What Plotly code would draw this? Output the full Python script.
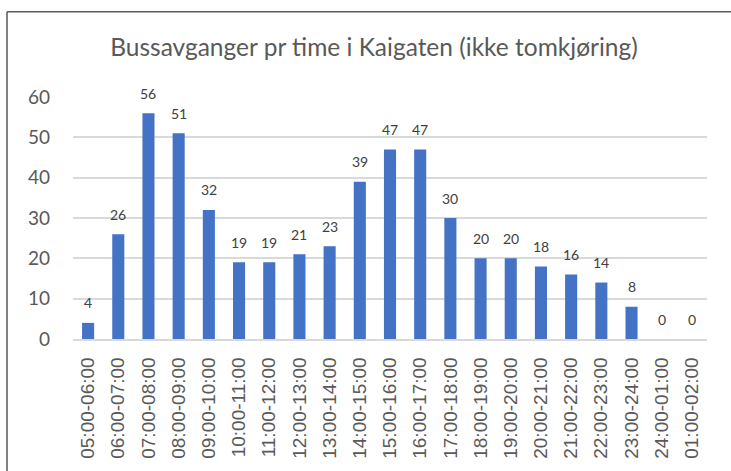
import plotly.graph_objects as go

categories = ["05:00-06:00", "06:00-07:00", "07:00-08:00", "08:00-09:00", "09:00-10:00",
              "10:00-11:00", "11:00-12:00", "12:00-13:00", "13:00-14:00", "14:00-15:00",
              "15:00-16:00", "16:00-17:00", "17:00-18:00", "18:00-19:00", "19:00-20:00",
              "20:00-21:00", "21:00-22:00", "22:00-23:00", "23:00-24:00", "24:00-01:00",
              "01:00-02:00"]
values = [4, 26, 56, 51, 32, 19, 19, 21, 23, 39, 47, 47, 30, 20, 20, 18, 16, 14, 8, 0, 0]
y_ticks = [0, 10, 20, 30, 40, 50, 60]

W, H = 731, 471
L, R, T, B = 73, 24, 97, 130
pw, ph = W - L - R, H - T - B

fig = go.Figure(go.Bar(
    x=categories, y=values,
    marker=dict(color="#4472C4", line=dict(width=0)),
    hoverinfo="skip",
))

annotations = [
    dict(x=c, y=v, xref="x", yref="y", text=str(v), showarrow=False,
         yanchor="middle", yshift=20,
         font=dict(family="Lato, Noto Sans, sans-serif", size=14, color="#404040"))
    for c, v in zip(categories, values)
]

def px_x(p):
    return (p - L) / pw

def px_y(p):
    return (H - B - p) / ph

fig.update_layout(
    width=W, height=H,
    margin=dict(l=L, r=R, t=T, b=B),
    paper_bgcolor="white", plot_bgcolor="white",
    bargap=0.6,
    showlegend=False,
    annotations=annotations,
    title=dict(text="Bussavganger pr time i Kaigaten (ikke tomkjøring)",
               x=px_x(374), xref="paper", xanchor="center",
               y=1 - 47 / H, yanchor="middle",
               font=dict(family="Lato, Noto Sans, sans-serif", size=24.5, color="#595959")),
    xaxis=dict(tickangle=-90, showgrid=False, showline=True, linecolor="#D9D9D9", linewidth=1.5,
               ticks="", tickfont=dict(family="Liberation Sans, Arial, sans-serif", size=19, color="#595959"),
               ticklabelstandoff=9),
    yaxis=dict(range=[0, 60], tickvals=y_ticks, showgrid=True, gridcolor="#D9D9D9", gridwidth=1.5,
               zeroline=False, showline=False, ticks="",
               tickfont=dict(family="Lato, Noto Sans, sans-serif", size=19, color="#595959"),
               ticklabelstandoff=22),
    shapes=[
        dict(type="line", xref="paper", yref="paper",
             x0=px_x(7), y0=px_y(11), x1=px_x(W + 5), y1=px_y(11),
             line=dict(color="#595959", width=1.5)),
        dict(type="line", xref="paper", yref="paper",
             x0=px_x(7), y0=px_y(11), x1=px_x(7), y1=px_y(H + 5),
             line=dict(color="#595959", width=1.5)),
    ],
)

fig.write_html("out.html", config={"displayModeBar": False},
               post_script="document.body.style.margin='0';")
